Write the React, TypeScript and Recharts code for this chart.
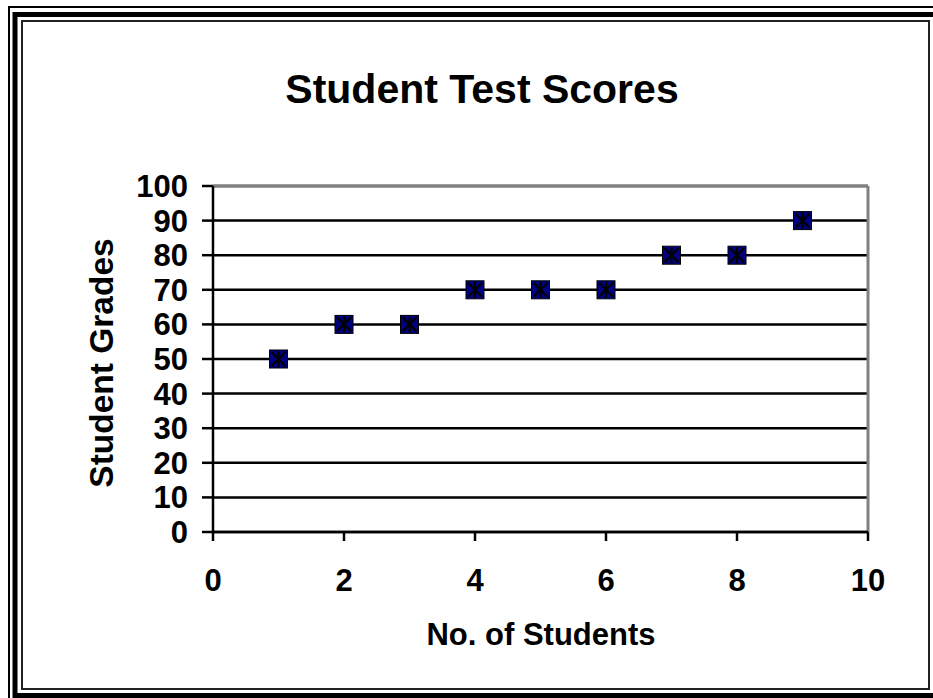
import React from 'react';
import {
    ScatterChart,
    Scatter,
    XAxis,
    YAxis,
    CartesianGrid,
    ReferenceLine
} from 'recharts';

const students = [1, 2, 3, 4, 5, 6, 7, 8, 9];
const grades = [50, 60, 60, 70, 70, 70, 80, 80, 90];
const xTicks = [0, 2, 4, 6, 8, 10];
const yTicks = [0, 10, 20, 30, 40, 50, 60, 70, 80, 90, 100];

const data = students.map((s, i) => ({ x: s, y: grades[i] }));

const FONT = '"Liberation Sans", Arial, sans-serif';

// navy square with a black star (x + vertical bar), like the old Excel marker
const StarSquare = (props: any) => {
    const { cx, cy } = props;
    if (cx == null || cy == null) return null;
    const h = 9;
    return (
        <g>
            <rect x={cx - h} y={cy - h} width={h * 2} height={h * 2} fill="#000080" stroke="#000" strokeWidth={1} />
            <line x1={cx - h + 2} y1={cy - h + 2} x2={cx + h - 2} y2={cy + h - 2} stroke="#000" strokeWidth={2.2} />
            <line x1={cx - h + 2} y1={cy + h - 2} x2={cx + h - 2} y2={cy - h + 2} stroke="#000" strokeWidth={2.2} />
            <line x1={cx} y1={cy - h + 1} x2={cx} y2={cy + h - 1} stroke="#000" strokeWidth={2.2} />
        </g>
    );
};

export default function App() {
    return (
        <div style={{ position: 'absolute', left: 0, top: 0, width: 933, height: 698, background: '#fff', overflow: 'hidden' }}>
            <svg width={933} height={698} style={{ position: 'absolute', left: 0, top: 0 }}>
                {/* frame */}
                <rect x={9} y={7} width={1000} height={1000} fill="none" stroke="#000" strokeWidth={2} />
                <rect x={15} y={14.5} width={921} height={681} fill="none" stroke="#000" strokeWidth={5} />
                <rect x={22} y={21} width={907} height={668} fill="none" stroke="#222" strokeWidth={2} />
                <text x={482} y={103} textAnchor="middle" fontFamily={FONT} fontWeight="bold" fontSize={41} fill="#000">
                    Student Test Scores
                </text>
                <text x={541} y={645} textAnchor="middle" fontFamily={FONT} fontWeight="bold" fontSize={31} fill="#000">
                    No. of Students
                </text>
                <text
                    transform="translate(113,363) rotate(-90)"
                    textAnchor="middle"
                    fontFamily={FONT}
                    fontWeight="bold"
                    fontSize={33.5}
                    fill="#000"
                >
                    Student Grades
                </text>
            </svg>
            <div style={{ position: 'absolute', left: 0, top: 0 }}>
                <ScatterChart width={933} height={698} margin={{ top: 186, right: 65, bottom: 106, left: 153 }}>
                    <CartesianGrid horizontal vertical={false} stroke="#000" strokeWidth={2.5} />
                    <XAxis
                        type="number"
                        dataKey="x"
                        domain={[0, 10]}
                        ticks={xTicks}
                        height={60}
                        stroke="#000"
                        strokeWidth={2.5}
                        tickSize={9}
                        tickMargin={28}
                        tick={{ fill: '#000', fontSize: 31, fontWeight: 'bold', fontFamily: FONT }}
                        interval={0}
                    />
                    <YAxis
                        type="number"
                        dataKey="y"
                        domain={[0, 100]}
                        ticks={yTicks}
                        width={60}
                        stroke="#000"
                        strokeWidth={2.5}
                        tickSize={11}
                        tickMargin={14}
                        tick={{ fill: '#000', fontSize: 31, fontWeight: 'bold', fontFamily: FONT }}
                        interval={0}
                    />
                    <ReferenceLine y={100} stroke="#808080" strokeWidth={3} />
                    <ReferenceLine x={10} stroke="#808080" strokeWidth={3} />
                    <Scatter data={data} shape={<StarSquare />} isAnimationActive={false} />
                </ScatterChart>
            </div>
        </div>
    );
}
